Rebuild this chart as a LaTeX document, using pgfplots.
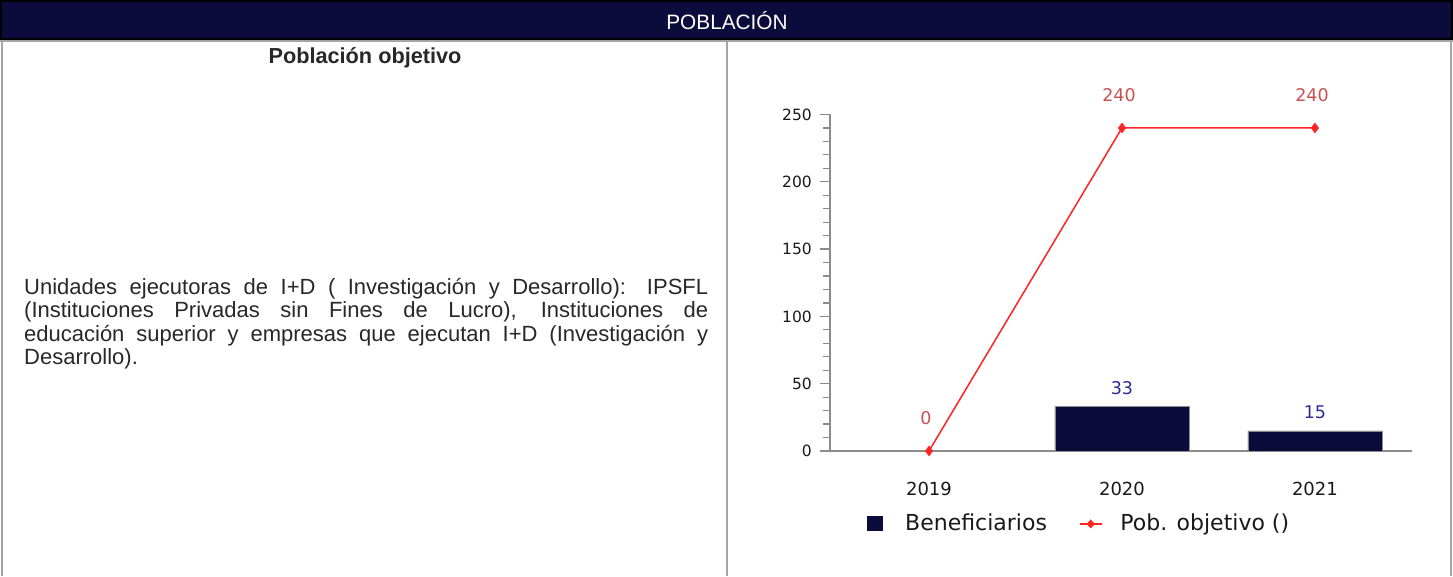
\documentclass[border=0pt]{standalone}
\usepackage{pgfplots}
\pgfplotsset{compat=1.18}
\usepackage{fontspec}
\setmainfont{Liberation Sans}
\newfontfamily\dejavu{DejaVu Sans}
\definecolor{navy}{RGB}{11,11,60}
\definecolor{framegray}{RGB}{165,165,165}
\definecolor{linered}{RGB}{255,35,35}
\definecolor{lblred}{RGB}{200,80,80}
\definecolor{lblblue}{RGB}{45,45,150}
\definecolor{axgray}{RGB}{140,140,140}
\definecolor{txt}{RGB}{40,40,40}
\definecolor{ticktxt}{RGB}{25,25,25}
\begin{document}
\begin{tikzpicture}
\useasboundingbox (0,0) rectangle (1453pt,576pt);
\fill[white] (0,0) rectangle (1453pt,576pt);
% header
\fill[navy] (0pt,537pt) rectangle (1453pt,576pt);
\draw[black, line width=2pt] (1pt,537pt) rectangle (1452pt,575pt);
\node[anchor=base, inner sep=0pt, text=white, font=\fontsize{20.8pt}{24pt}\selectfont] at (727pt,546pt) {POBLACIÓN};
% cell borders
\draw[framegray, line width=2pt] (0pt,534.5pt) -- (1453pt,534.5pt);
\draw[framegray, line width=2pt] (1.5pt,0pt) -- (1.5pt,534.5pt);
\draw[framegray, line width=1.5pt] (727pt,0pt) -- (727pt,534.5pt);
\draw[framegray, line width=2pt] (1450.5pt,0pt) -- (1450.5pt,534.5pt);
% left cell
\node[anchor=base, inner sep=0pt, text=txt, font=\bfseries\fontsize{21.7pt}{24pt}\selectfont] at (365pt,512pt) {Población objetivo};
\node[anchor=base west, inner sep=0pt, text width=684pt, align=justify, text=txt,
      font=\fontsize{22pt}{23.4pt}\selectfont] at (24pt,281.5pt)
 {\hyphenpenalty=10000 \tolerance=10000 \hbadness=10000
 Unidades ejecutoras de I+D ( Investigación y Desarrollo): IPSFL\linebreak
 (Instituciones Privadas sin Fines de Lucro), Instituciones de\linebreak
 educación superior y empresas que ejecutan I+D (Investigación y\linebreak
 Desarrollo).};
% chart
\begin{axis}[
  at={(830pt,125pt)}, anchor=south west,
  scale only axis, width=582pt, height=336.5pt,
  xmin=-0.513, xmax=2.503, ymin=0, ymax=250,
  clip=false,
  axis x line*=bottom, axis y line*=left,
  axis line style={-, draw=axgray, line width=1.6pt},
  xtick={0,1,2}, xticklabels={2019,2020,2021},
  ytick={0,50,100,150,200,250}, minor y tick num=4,
  tick align=outside,
  major tick length=10pt, minor tick length=7pt,
  xtick style={draw=none},
  ytick style={draw=axgray, line width=1.2pt},
  minor tick style={draw=axgray, line width=1.2pt},
  /pgf/number format/assume math mode=true,
  yticklabel style={font=\dejavu\fontsize{15.5pt}{18pt}\selectfont, text=ticktxt, inner sep=0pt, xshift=-8pt},
  xticklabel style={font=\dejavu\fontsize{18pt}{20pt}\selectfont, text=ticktxt, inner sep=0pt, anchor=base, yshift=-34pt},
  legend style={at={(0.0636,-0.2138)}, anchor=west, draw=none, fill=none, inner sep=0pt,
    font=\dejavu\fontsize{22pt}{24pt}\selectfont, text=ticktxt,
    nodes={inner sep=0pt},
    /tikz/every odd column/.append style={column sep=18pt},
    /tikz/every even column/.append style={column sep=32pt}},
  legend columns=2, legend cell align=left,
]
\addplot[ybar, bar width=134pt, fill=navy, draw=axgray, line width=0.6pt,
  nodes near coords,
  every node near coord/.append style={anchor=base, inner sep=0pt, yshift=12.3pt, text=lblblue, font=\dejavu\fontsize{17.5pt}{20pt}\selectfont},
  legend image code/.code={\fill[navy, draw=none] (0pt,-8pt) rectangle (16pt,7pt); \path[draw=none, fill=none] (0pt,0pt) -- (20pt,0pt);}]
  coordinates {(1,33) (2,15)};
\addlegendentry{Beneficiarios}
\addplot[linered, line width=1.5pt, mark=diamond*, mark size=5pt,
  mark options={fill=linered, draw=linered, line width=0.4pt},
  nodes near coords,
  every node near coord/.append style={anchor=base, inner sep=0pt, yshift=26.6pt, xshift=-3pt, text=lblred, font=\dejavu\fontsize{17.5pt}{20pt}\selectfont},
  legend image code/.code={\draw[linered, line width=1.5pt] (0pt,-1pt) -- (22pt,-1pt); \fill[linered, draw=none] (11pt,-1pt) +(-4pt,0pt) -- +(0pt,4.5pt) -- +(4pt,0pt) -- +(0pt,-4.5pt) -- cycle;}]
  coordinates {(0,0) (1,240) (2,240)};
\addlegendentry{Pob. objetivo ()}
\end{axis}
\end{tikzpicture}
\end{document}
